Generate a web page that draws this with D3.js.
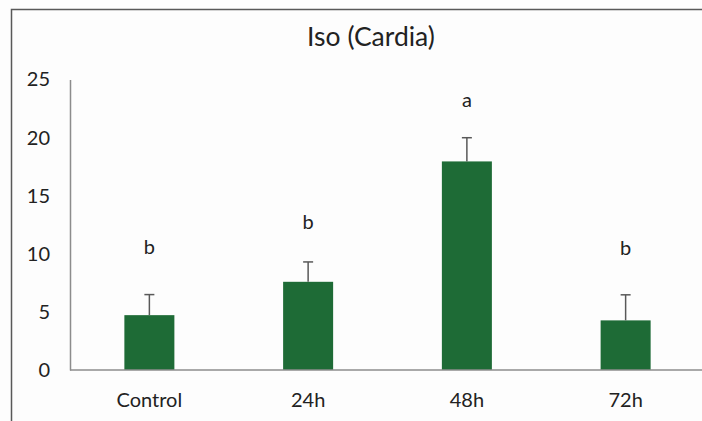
<!DOCTYPE html>
<html>
<head>
<meta charset="utf-8">
<script src="https://cdn.jsdelivr.net/npm/d3@7"></script>
<style>
  html, body { margin: 0; padding: 0; background: #fff; }
  svg { display: block; }
  text { font-family: Lato, "Open Sans", sans-serif; fill: #222; }
</style>
</head>
<body>
<svg id="chart" width="702" height="421"></svg>
<script>
// Group means, standard errors and significance letters
const categories = ["Control", "24h", "48h", "72h"];
const means = [4.72, 7.59, 17.95, 4.27];
const errors = [1.77, 1.71, 2.04, 2.2];
const letters = ["b", "b", "a", "b"];
const letterLevels = [10.0, 12.1, 22.6, 9.9];
const yTicks = [0, 5, 10, 15, 20, 25];
const title = "Iso (Cardia)";

const width = 702, height = 421;
const font = "Lato, 'Open Sans', sans-serif";
const svg = d3.select("#chart");

svg.append("rect").attr("width", width).attr("height", height).attr("fill", "#fdfdfd");

// chart frame (left and top edges visible)
svg.append("path")
  .attr("d", `M11.5,${height + 2} V9.5 H${width + 2}`)
  .attr("fill", "none").attr("stroke", "#595959").attr("stroke-width", 1.5);

const x = d3.scaleBand().domain(categories).range([70, 705]).paddingInner(0.685).paddingOuter(0.3425);
const y = d3.scaleLinear().domain([0, 25]).range([370, 79.5]);

// title
svg.append("text")
  .attr("x", 371).attr("y", 46)
  .attr("text-anchor", "middle")
  .attr("font-size", 26.5)
  .text(title);

// y axis
const yAxis = svg.append("g").attr("transform", "translate(70,0)")
  .call(d3.axisLeft(y).tickValues(yTicks).tickSize(0).tickPadding(20));
yAxis.select(".domain").attr("stroke", "#8c8c8c").attr("stroke-width", 1.5);
yAxis.selectAll("text").attr("font-size", 20).attr("fill", "#222").attr("font-family", font);

// bars
svg.append("g").selectAll("rect")
  .data(categories)
  .join("rect")
  .attr("x", (d) => x(d))
  .attr("width", x.bandwidth())
  .attr("y", (d, i) => y(means[i]))
  .attr("height", (d, i) => y(0) - y(means[i]))
  .attr("fill", "#1e6b36");

// x axis
const xAxis = svg.append("g").attr("transform", `translate(0,${y(0)})`)
  .call(d3.axisBottom(x).tickSize(0).tickPadding(21));
xAxis.select(".domain").attr("d", `M70,0 H${width + 2}`).attr("stroke", "#8c8c8c").attr("stroke-width", 1.5);
xAxis.selectAll("text").attr("font-size", 20).attr("fill", "#222").attr("font-family", font)
  .attr("y", 0).attr("dy", 37);

// error bars (upper whisker only)
const eg = svg.append("g").attr("stroke", "#595959").attr("stroke-width", 1.5).attr("fill", "none");
categories.forEach((c, i) => {
  const cx = x(c) + x.bandwidth() / 2;
  const top = y(means[i] + errors[i]);
  eg.append("line").attr("x1", cx).attr("x2", cx).attr("y1", y(means[i])).attr("y2", top);
  eg.append("line").attr("x1", cx - 5).attr("x2", cx + 5).attr("y1", top).attr("y2", top);
});

// significance letters
svg.append("g").selectAll("text")
  .data(categories)
  .join("text")
  .attr("x", (d) => x(d) + x.bandwidth() / 2)
  .attr("y", (d, i) => y(letterLevels[i]))
  .attr("text-anchor", "middle")
  .attr("font-size", 20)
  .text((d, i) => letters[i]);
</script>
</body>
</html>
